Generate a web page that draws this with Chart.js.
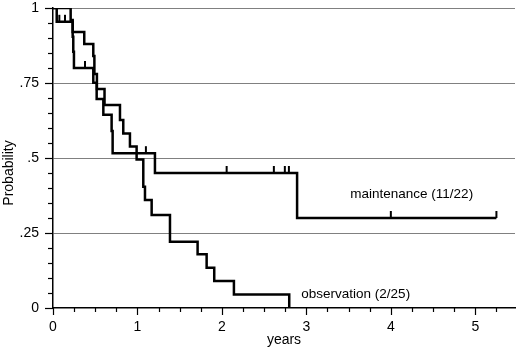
<!DOCTYPE html>
<html lang="en">
<head>
<meta charset="UTF-8">
<title>Probability vs years</title>
<script src="https://cdn.jsdelivr.net/npm/chart.js"></script>
<style>
  html, body { margin: 0; padding: 0; background: #fff; }
  #wrap { width: 520px; height: 349px; }
</style>
</head>
<body>
<div id="wrap"><canvas id="chart" width="520" height="349"></canvas></div>
<script>
// survival steps
const maintTimes = [0, 0.044, 0.233, 0.240, 0.248, 0.477, 0.517, 0.596, 0.694, 0.706, 1.207, 2.89, 5.25];
const maintSurv  = [1, 0.954, 0.904, 0.854, 0.800, 0.751, 0.697, 0.644, 0.590, 0.516, 0.450, 0.300, 0.300];
const maintCensored = [0.075, 0.142, 0.379, 1.10, 2.056, 2.615, 2.745, 2.793, 4.0, 5.25];

const obsTimes = [0, 0.209, 0.233, 0.37, 0.477, 0.49, 0.52, 0.61, 0.793, 0.832, 0.911, 0.99, 1.069, 1.089, 1.168, 1.385, 1.712, 1.819, 1.909, 2.142, 2.797];
const obsSurv  = [1, 0.96, 0.92, 0.88, 0.84, 0.78, 0.73, 0.677, 0.627, 0.582, 0.538, 0.495, 0.404, 0.36, 0.31, 0.221, 0.179, 0.134, 0.09, 0.045, 0];

const seriesNames = ['maintenance (11/22)', 'observation (2/25)'];

const xTicks = [0, 1, 2, 3, 4, 5];
const xTickLabels = ['0', '1', '2', '3', '4', '5'];
const yTicks = [0, 0.25, 0.5, 0.75, 1];
const yTickLabels = ['0', '.25', '.5', '.75', '1'];

const FONT = "'Liberation Sans', Arial, sans-serif";
Chart.defaults.font.family = FONT;
Chart.defaults.color = '#000';

function toPoints(times, surv) {
  return times.map((t, i) => ({ x: t, y: surv[i] }));
}

function survAt(times, surv, t) {
  let v = surv[0];
  for (let i = 0; i < times.length; i++) {
    if (times[i] <= t) v = surv[i];
  }
  return v;
}

const extras = {
  id: 'extras',
  afterDraw(chart) {
    const ctx = chart.ctx;
    const xs = chart.scales.x, ys = chart.scales.y;
    const area = chart.chartArea;
    ctx.save();
    ctx.strokeStyle = '#000';

    // axis tick marks (major + minor)
    ctx.lineWidth = 1.2;
    for (let k = 0; k * 0.25 <= xs.max; k++) {
      const px = Math.round(xs.getPixelForValue(k * 0.25)) + 0.5;
      const len = k % 4 === 0 ? 7 : 4;
      ctx.beginPath();
      ctx.moveTo(px, area.bottom);
      ctx.lineTo(px, area.bottom + len);
      ctx.stroke();
    }
    for (let k = 0; k <= 20; k++) {
      const py = Math.round(ys.getPixelForValue(k * 0.05)) + 0.5;
      const len = k % 5 === 0 ? 8 : 5;
      ctx.beginPath();
      ctx.moveTo(area.left - len, py);
      ctx.lineTo(area.left, py);
      ctx.stroke();
    }

    // censor marks on the maintenance curve
    ctx.lineWidth = 2;
    maintCensored.forEach(t => {
      const px = xs.getPixelForValue(t);
      const py = ys.getPixelForValue(survAt(maintTimes, maintSurv, t));
      ctx.beginPath();
      ctx.moveTo(px, py);
      ctx.lineTo(px, py - 7);
      ctx.stroke();
    });

    // curve labels
    ctx.fillStyle = '#000';
    ctx.font = '13.5px ' + FONT;
    ctx.textAlign = 'left';
    ctx.textBaseline = 'alphabetic';
    ctx.fillText(seriesNames[0], xs.getPixelForValue(3.52), ys.getPixelForValue(0.368));
    ctx.fillText(seriesNames[1], xs.getPixelForValue(2.94), ys.getPixelForValue(0.033));

    // axis titles
    ctx.font = '14px ' + FONT;
    ctx.textAlign = 'center';
    ctx.fillText('years', (area.left + area.right) / 2, 344);
    ctx.translate(12.5, 173);
    ctx.rotate(-Math.PI / 2);
    ctx.fillText('Probability', 0, 0);
    ctx.restore();
  }
};

new Chart(document.getElementById('chart'), {
  type: 'line',
  data: {
    datasets: [
      {
        label: seriesNames[0],
        data: toPoints(maintTimes, maintSurv),
        borderColor: '#000',
        borderWidth: 2.5,
        stepped: true,
        pointRadius: 0,
        fill: false
      },
      {
        label: seriesNames[1],
        data: toPoints(obsTimes, obsSurv),
        borderColor: '#000',
        borderWidth: 2.5,
        stepped: true,
        pointRadius: 0,
        fill: false
      }
    ]
  },
  options: {
    responsive: false,
    animation: false,
    events: [],
    layout: { padding: { top: 8, right: 5, left: 0, bottom: 0 } },
    plugins: { legend: { display: false }, tooltip: { enabled: false } },
    scales: {
      x: {
        type: 'linear',
        min: 0,
        max: 5.47,
        afterBuildTicks: s => { s.ticks = xTicks.map(v => ({ value: v })); },
        afterFit: s => { s.height = 41; s.paddingLeft = 0; s.paddingRight = 0; },
        ticks: {
          callback: (v, i) => xTickLabels[i],
          font: { size: 14 },
          color: '#000',
          padding: 11,
          maxRotation: 0,
          autoSkip: false
        },
        grid: { display: false, drawTicks: false },
        border: { display: true, color: '#000', width: 1.5 }
      },
      y: {
        min: 0,
        max: 1,
        afterBuildTicks: s => { s.ticks = yTicks.map(v => ({ value: v })); },
        afterFit: s => { s.width = 53; s.paddingTop = 0; s.paddingBottom = 0; },
        ticks: {
          callback: (v, i) => yTickLabels[i],
          font: { size: 14 },
          color: '#000',
          padding: 14,
          autoSkip: false
        },
        grid: {
          drawTicks: false,
          lineWidth: 1,
          color: c => (c.tick && c.tick.value === 0) ? 'rgba(0,0,0,0)' : '#808080'
        },
        border: { display: true, color: '#000', width: 1.5 }
      }
    }
  },
  plugins: [extras]
});
</script>
</body>
</html>
